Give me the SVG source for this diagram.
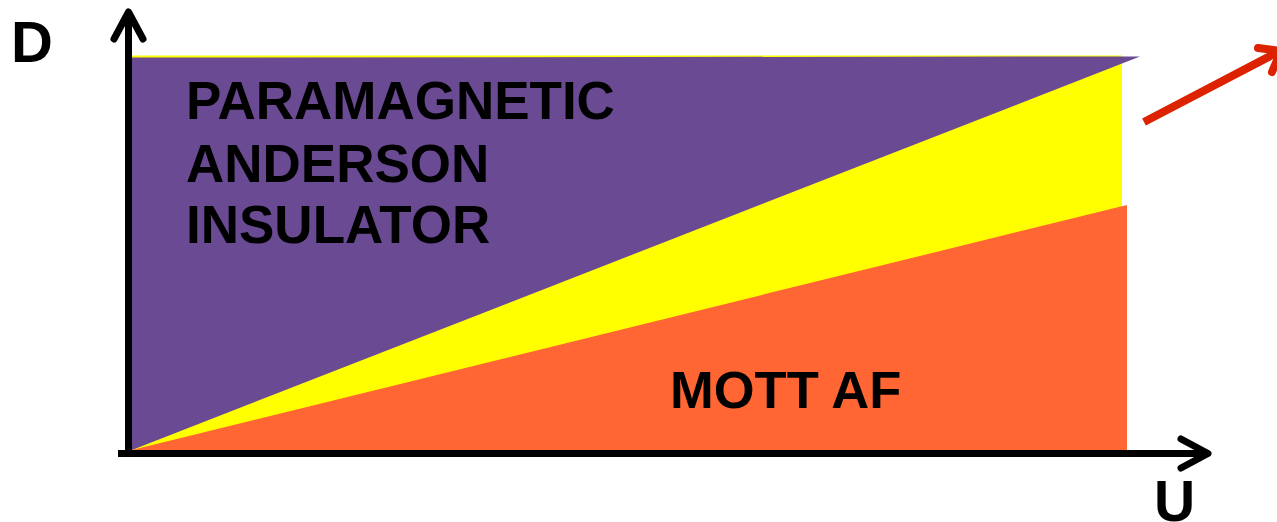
<svg xmlns="http://www.w3.org/2000/svg" width="1277" height="522" viewBox="0 0 1277 522">
<style>
.lbl{font-family:"Liberation Sans",Arial,sans-serif;font-weight:bold;fill:#000}
.axis{stroke:#000;stroke-width:7;fill:none}
.head{stroke:#000;stroke-width:7;fill:none;stroke-linecap:round;stroke-linejoin:round}
</style>
<rect width="1277" height="522" fill="#fff"/>
<g id="regions">
<rect id="yellow-band" x="132" y="55.5" width="990" height="395" fill="#FFFF00"/>
<polygon id="paramagnetic" points="132,57.5 1140,56.5 132,450" fill="#6B4A94"/>
<polygon id="mott-af" points="132,450 1127,205 1127,450" fill="#FF6633"/>
</g>
<g id="axes">
<line class="axis" x1="128.5" y1="14" x2="128.5" y2="457"/>
<polyline class="head" points="114,39 128.5,12 143,39"/>
<line class="axis" x1="118" y1="453.5" x2="1206" y2="453.5"/>
<polyline class="head" points="1181,439 1208,453.5 1181,468"/>
</g>
<g id="red-arrow">
<line x1="1144" y1="122" x2="1278" y2="52" stroke="#DD2200" stroke-width="8"/>
<polyline points="1258,48 1281,51 1272,72" stroke="#DD2200" stroke-width="8" fill="none" stroke-linecap="round" stroke-linejoin="round"/>
</g>
<g id="labels">
<text class="lbl" x="11" y="62" font-size="58">D</text>
<text class="lbl" x="1154" y="521" font-size="57">U</text>
<text class="lbl" x="186" y="119" font-size="53">PARAMAGNETIC</text>
<text class="lbl" x="186" y="182" font-size="53">ANDERSON</text>
<text class="lbl" x="186" y="243" font-size="53">INSULATOR</text>
<text class="lbl" x="670" y="408" font-size="52.5">MOTT AF</text>
</g>
</svg>
